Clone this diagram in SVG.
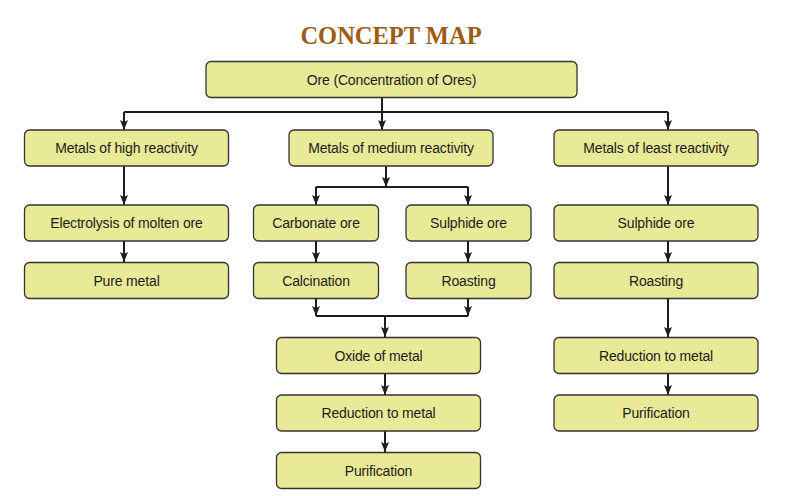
<svg xmlns="http://www.w3.org/2000/svg" width="792" height="496" viewBox="0 0 792 496">
<style>
.box{fill:#e9ea98;stroke:#333333;stroke-width:1.3}
.lbl{font-family:"Liberation Sans",Arial,sans-serif;font-size:14px;letter-spacing:-0.15px;fill:#1c1c1c;text-anchor:middle}
.title{font-family:"Liberation Serif","Times New Roman",serif;font-size:24.5px;font-weight:bold;fill:#9c5c14;text-anchor:middle}
.ln{fill:none;stroke:#1e1e1e;stroke-width:2}
.ar{fill:none;stroke:#1e1e1e;stroke-width:2;marker-end:url(#ah)}
</style>
<defs>
<marker id="ah" markerUnits="userSpaceOnUse" viewBox="0 0 10 8" markerWidth="10" markerHeight="8" refX="10" refY="4" orient="auto">
<path d="M0,0 L10,4 L0,8 L2,4 z" fill="#1e1e1e"/>
</marker>
</defs>
<rect width="792" height="496" fill="#ffffff"/>
<text class="title" x="391" y="43.5">CONCEPT MAP</text>
<g id="connectors">
<path class="ln" d="M382,97 V112 M124,112 H668"/>
<path class="ar" d="M124,112 V130"/>
<path class="ar" d="M382,112 V130"/>
<path class="ar" d="M668,112 V130"/>
<path class="ar" d="M124,166 V205"/>
<path class="ar" d="M386,166 V187"/>
<path class="ln" d="M316,187 H468"/>
<path class="ar" d="M316,187 V205"/>
<path class="ar" d="M468,187 V205"/>
<path class="ar" d="M668,166 V205"/>
<path class="ar" d="M124,241 V262"/>
<path class="ar" d="M316,241 V262"/>
<path class="ar" d="M468,241 V262"/>
<path class="ar" d="M668,241 V262"/>
<path class="ar" d="M316,298 V316"/>
<path class="ar" d="M468,298 V316"/>
<path class="ln" d="M316,316 H468"/>
<path class="ar" d="M385,316 V337"/>
<path class="ar" d="M385,373 V395"/>
<path class="ar" d="M385,431 V452"/>
<path class="ar" d="M668,298 V337"/>
<path class="ar" d="M668,373 V395"/>
</g>
<g id="ore"><rect class="box" x="206" y="61.5" width="371" height="36" rx="5"/><text class="lbl" x="391.5" y="84.5">Ore (Concentration of Ores)</text></g>
<g id="high"><rect class="box" x="24.5" y="130" width="204" height="36" rx="5"/><text class="lbl" x="126.5" y="153.3">Metals of high reactivity</text></g>
<g id="medium"><rect class="box" x="289" y="130" width="204" height="36" rx="5"/><text class="lbl" x="391" y="153.3">Metals of medium reactivity</text></g>
<g id="least"><rect class="box" x="554" y="130" width="204" height="36" rx="5"/><text class="lbl" x="656" y="153.3">Metals of least reactivity</text></g>
<g id="electrolysis"><rect class="box" x="24.5" y="205" width="204" height="36" rx="5"/><text class="lbl" x="126.5" y="228">Electrolysis of molten ore</text></g>
<g id="carbonate"><rect class="box" x="253.5" y="205" width="125" height="36" rx="5"/><text class="lbl" x="316" y="228">Carbonate ore</text></g>
<g id="sulphide-mid"><rect class="box" x="406" y="205" width="125" height="36" rx="5"/><text class="lbl" x="468.5" y="228">Sulphide ore</text></g>
<g id="sulphide-right"><rect class="box" x="554" y="205" width="204" height="36" rx="5"/><text class="lbl" x="656" y="228">Sulphide ore</text></g>
<g id="pure"><rect class="box" x="24.5" y="262.5" width="204" height="36" rx="5"/><text class="lbl" x="126.5" y="285.5">Pure metal</text></g>
<g id="calcination"><rect class="box" x="253.5" y="262.5" width="125" height="36" rx="5"/><text class="lbl" x="316" y="285.5">Calcination</text></g>
<g id="roasting-mid"><rect class="box" x="406" y="262.5" width="125" height="36" rx="5"/><text class="lbl" x="468.5" y="285.5">Roasting</text></g>
<g id="roasting-right"><rect class="box" x="554" y="262.5" width="204" height="36" rx="5"/><text class="lbl" x="656" y="285.5">Roasting</text></g>
<g id="oxide"><rect class="box" x="276.5" y="337.5" width="204" height="36" rx="5"/><text class="lbl" x="378.5" y="360.5">Oxide of metal</text></g>
<g id="reduction-mid"><rect class="box" x="276.5" y="395" width="204" height="36" rx="5"/><text class="lbl" x="378.5" y="418">Reduction to metal</text></g>
<g id="purification-mid"><rect class="box" x="276.5" y="452.5" width="204" height="36" rx="5"/><text class="lbl" x="378.5" y="475.5">Purification</text></g>
<g id="reduction-right"><rect class="box" x="554" y="337.5" width="204" height="36" rx="5"/><text class="lbl" x="656" y="360.5">Reduction to metal</text></g>
<g id="purification-right"><rect class="box" x="554" y="395" width="204" height="36" rx="5"/><text class="lbl" x="656" y="418">Purification</text></g>
</svg>
